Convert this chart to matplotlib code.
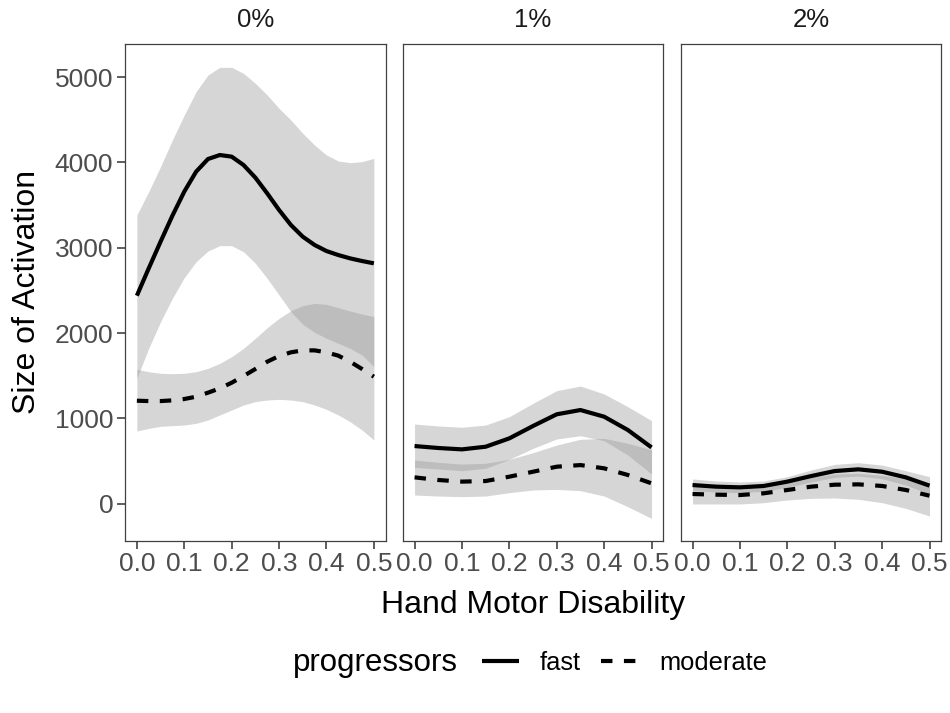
#! /usr/bin/env python

import numpy as np
from matplotlib import pyplot as plt

# Facetten und Gruppen
facets = ["0%", "1%", "2%"]
groups = ["fast", "moderate"]

# Stuetzstellen (Hand Motor Disability)
x_p0 = [0.0, 0.025, 0.05, 0.075, 0.1, 0.125, 0.15, 0.175, 0.2, 0.225, 0.25,
        0.275, 0.3, 0.325, 0.35, 0.375, 0.4, 0.425, 0.45, 0.475, 0.5]
x_p12 = [0.0, 0.05, 0.1, 0.15, 0.2, 0.25, 0.3, 0.35, 0.4, 0.45, 0.5]

# Facette 0%
fast_0 = [2438, 2758, 3071, 3375, 3657, 3891, 4039, 4086, 4067, 3969, 3821,
          3637, 3442, 3266, 3129, 3032, 2961, 2914, 2875, 2844, 2817]
fast_0_hi = [3383, 3657, 3950, 4262, 4555, 4828, 5024, 5113, 5113, 5043, 4926,
             4789, 4633, 4496, 4340, 4203, 4086, 4016, 3996, 4008, 4047]
fast_0_lo = [1469, 1821, 2133, 2407, 2649, 2836, 2961, 3024, 3024, 2953, 2817,
             2641, 2446, 2250, 2102, 2008, 1938, 1879, 1821, 1743, 1606]
mod_0 = [1207, 1203, 1203, 1211, 1227, 1254, 1301, 1352, 1418, 1496, 1579,
         1664, 1731, 1774, 1797, 1797, 1774, 1735, 1664, 1579, 1489]
mod_0_hi = [1575, 1547, 1528, 1524, 1528, 1547, 1586, 1645, 1723, 1821, 1938,
            2063, 2172, 2262, 2321, 2348, 2336, 2297, 2258, 2223, 2192]
mod_0_lo = [852, 883, 907, 915, 922, 942, 981, 1040, 1098, 1157, 1196,
            1215, 1223, 1215, 1196, 1157, 1106, 1040, 961, 864, 747]

# Facette 1%
fast_1 = [676, 653, 637, 668, 766, 911, 1048, 1098, 1020, 864, 660]
fast_1_hi = [934, 911, 896, 922, 1020, 1177, 1325, 1379, 1286, 1137, 974]
fast_1_lo = [426, 407, 387, 415, 520, 649, 759, 797, 738, 571, 348]
mod_1 = [309, 278, 259, 266, 317, 375, 434, 453, 415, 337, 239]
mod_1_hi = [512, 485, 465, 474, 520, 598, 688, 755, 766, 708, 630]
mod_1_lo = [102, 90, 83, 90, 130, 161, 168, 153, 90, -35, -172]

# Facette 2%
fast_2 = [219, 200, 192, 208, 259, 324, 383, 403, 375, 309, 212]
fast_2_hi = [290, 266, 255, 266, 317, 395, 461, 481, 453, 387, 317]
fast_2_lo = [153, 137, 130, 145, 192, 255, 309, 324, 293, 219, 114]
mod_2 = [114, 106, 102, 122, 161, 200, 223, 227, 208, 161, 94]
mod_2_hi = [231, 215, 208, 219, 259, 309, 348, 356, 333, 293, 246]
mod_2_lo = [-3, -3, -3, 12, 44, 63, 67, 52, 12, -54, -144]

# Achsenbeschriftung
x_ticks = [0.0, 0.1, 0.2, 0.3, 0.4, 0.5]
x_ticklabels = ["0.0", "0.1", "0.2", "0.3", "0.4", "0.5"]
y_ticks = [0, 1000, 2000, 3000, 4000, 5000]


def style_axes(ax, first):
    """Rahmen, Ticks und Grenzen wie im ggplot-Theme"""
    ax.set_xlim(-0.025, 0.525)
    ax.set_ylim(-437, 5387)
    for sp in ax.spines.values():
        sp.set_color("#404040")
        sp.set_linewidth(0.9)
    ax.set_xticks(x_ticks)
    ax.set_xticklabels(x_ticklabels)
    ax.tick_params(axis="x", length=5.5, width=1.1, color="#333333",
                   labelsize=19, labelcolor="#4D4D4D", pad=2.5)
    if first:
        ax.set_yticks(y_ticks)
        ax.tick_params(axis="y", length=5.5, width=1.1, color="#333333",
                       labelsize=19, labelcolor="#4D4D4D", pad=3)
    else:
        ax.set_yticks([])


def main():
    plt.rcParams["font.family"] = ["Liberation Sans", "DejaVu Sans"]
    fig = plt.figure(figsize=(9.5, 7.13), dpi=100)

    panels = [
        (x_p0, fast_0, fast_0_lo, fast_0_hi, mod_0, mod_0_lo, mod_0_hi),
        (x_p12, fast_1, fast_1_lo, fast_1_hi, mod_1, mod_1_lo, mod_1_hi),
        (x_p12, fast_2, fast_2_lo, fast_2_hi, mod_2, mod_2_lo, mod_2_hi),
    ]
    lefts = [0.1316, 0.4239, 0.7165]

    for i, (x, f, flo, fhi, m, mlo, mhi) in enumerate(panels):
        ax = fig.add_axes([lefts[i], 0.2412, 0.2744, 0.6971])
        # Konfidenzbaender zuerst, dann Linien
        ax.fill_between(x, flo, fhi, color="#999999", alpha=0.4, lw=0)
        ax.fill_between(x, mlo, mhi, color="#999999", alpha=0.4, lw=0)
        ax.plot(x, f, color="black", lw=3.0, solid_capstyle="butt",
                solid_joinstyle="round", label=groups[0])
        ax.plot(x, m, color="black", lw=3.0, ls=(0, (2.75, 2.75)),
                dash_capstyle="butt", label=groups[1])
        style_axes(ax, i == 0)
        ax.text(0.5, 1.048, facets[i], transform=ax.transAxes, ha="center",
                va="center", fontsize=18.6, color="#1A1A1A")
        if i == 0:
            handles, labels = ax.get_legend_handles_labels()

    # Achsentitel
    fig.text(533/950, 1 - 605/713, "Hand Motor Disability", ha="center",
             va="center", fontsize=23)
    fig.text(27/950, 1 - 292/713, "Size of Activation", ha="center",
             va="center", rotation=90, fontsize=23)

    # Legende unten
    fig.text(293/950, 1 - 663/713, "progressors", ha="left", va="center",
             fontsize=22.5)
    fig.legend(handles, labels, loc="center left",
               bbox_to_anchor=(482/950, 1 - 663/713), ncol=2, frameon=False,
               fontsize=18.4, handlelength=1.45, handletextpad=0.82,
               columnspacing=0.78, borderpad=0, borderaxespad=0)

    fig.savefig("out.png", dpi=100)


if __name__ == "__main__":
    main()
